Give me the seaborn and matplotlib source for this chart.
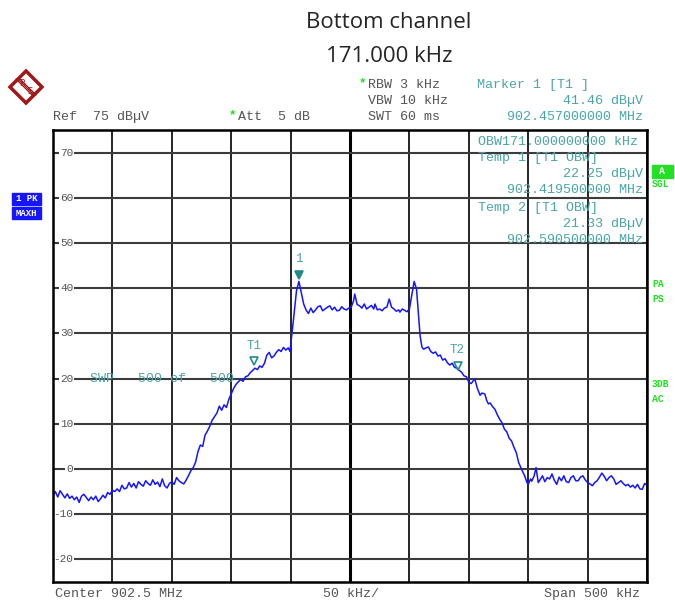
import matplotlib
matplotlib.use("Agg")
import matplotlib.pyplot as plt
import matplotlib.transforms as mtransforms
from matplotlib.patches import Rectangle, Polygon
import numpy as np
import pandas as pd
import seaborn as sns

# Analyzer settings
TITLE = "Bottom channel\n171.000 kHz"
START_MHZ = 902.25
SPAN_KHZ = 500
Y_MIN, Y_MAX = -25, 75

# Trace (offset from start frequency in kHz, level in dBuV)
freq_khz = [
    0, 2, 4, 6, 8, 10, 12, 14, 16, 18, 20, 22, 24, 26, 28, 30, 32, 34, 36, 38,
    40, 42, 44, 46, 48, 50, 52, 54, 56, 58, 60, 62, 64, 66, 68, 70, 72, 74, 76, 78,
    80, 82, 84, 86, 88, 90, 92, 94, 96, 98, 100, 102, 104, 106, 108, 110, 112, 114, 116, 118,
    120, 122, 124, 126, 128, 130, 132, 134, 136, 138, 140, 142, 144, 146, 148, 150, 152, 154, 156, 158,
    160, 162, 164, 166, 168, 170, 172, 174, 176, 178, 180, 182, 184, 186, 188, 190, 192, 194, 196, 198,
    199.5, 201, 203, 205, 207, 209, 211, 213, 215, 217, 219, 221, 223, 225, 227, 229, 231, 233, 235, 237,
    239, 241, 243, 245, 247, 249, 251, 253, 254, 256, 258, 260, 262, 264, 266, 268, 270, 271, 273, 275,
    277, 279, 281, 283, 285, 287, 289, 291, 292, 294, 296, 298, 300, 302, 304, 306, 308, 309, 310.5, 312,
    314, 316, 318, 320, 322, 324, 326, 328, 330, 332, 334, 336, 338, 340, 342, 344, 346, 348, 350, 352,
    354, 355, 357, 359.5, 361, 363.5, 365, 366.5, 368, 370, 372, 374, 376, 378, 380, 382, 384, 386, 388, 390,
    392, 393, 395, 397, 399, 400, 402, 403, 405, 406.6, 408.5, 410, 412, 414, 416, 418, 420, 422, 424, 426,
    428, 430, 432, 434, 436, 438, 440, 442, 444, 446, 448, 450, 452, 454, 456, 458, 460, 462, 464, 466,
    468, 470, 472, 474, 476, 478, 480, 482, 484, 486, 488, 490, 492, 494, 496, 498, 500,
]
level_dbuv = [
    -6.0, -5.0, -6.2, -4.8, -5.6, -6.4, -5.5, -6.5, -6.0, -6.8, -6.2, -7.4, -6.0, -5.6, -6.3, -7.0, -6.2, -6.8, -6.0, -7.2,
    -6.6, -5.8, -6.4, -5.2, -5.6, -4.7, -5.0, -4.4, -5.0, -3.6, -4.4, -4.2, -3.0, -4.0, -3.2, -4.2, -2.8, -3.4, -3.8, -2.6,
    -3.2, -3.6, -2.4, -3.4, -2.9, -3.9, -2.2, -3.7, -4.2, -3.2, -2.8, -3.4, -1.9, -2.6, -3.0, -3.3, -2.5, -1.5, -0.4, 0.3,
    1.5, 3.8, 5.3, 5.0, 7.5, 8.4, 9.5, 10.8, 11.6, 12.4, 13.9, 13.0, 14.2, 13.6, 15.4, 16.6, 17.8, 18.7, 19.3, 19.8,
    19.4, 20.4, 20.6, 21.3, 21.8, 22.3, 22.0, 22.8, 22.5, 23.4, 25.2, 25.8, 24.6, 25.0, 25.8, 26.4, 26.0, 26.9, 26.3, 26.8,
    26.0, 29.6, 34.5, 39.5, 41.5, 39.0, 36.5, 35.2, 34.4, 35.6, 34.6, 35.2, 35.9, 36.1, 35.0, 35.4, 35.8, 36.1, 35.2, 35.8,
    35.0, 35.1, 35.9, 35.4, 35.2, 35.6, 35.8, 37.2, 38.7, 36.4, 36.1, 35.6, 36.5, 35.4, 35.8, 36.2, 35.4, 36.5, 35.2, 35.4,
    35.0, 35.6, 35.8, 37.6, 35.8, 35.4, 34.9, 35.2, 34.7, 35.4, 35.1, 34.8, 35.4, 38.5, 41.5, 39.8, 33.0, 29.5, 27.0, 26.5,
    26.8, 27.0, 26.0, 25.6, 25.9, 25.0, 25.2, 24.1, 24.4, 23.5, 23.0, 23.4, 22.5, 22.3, 21.8, 21.4, 20.6, 20.4, 19.2, 18.9,
    19.6, 20.0, 18.0, 16.3, 16.8, 16.6, 15.2, 14.4, 14.6, 13.8, 13.2, 12.0, 11.0, 10.2, 8.8, 8.2, 6.8, 6.2, 4.8, 3.6,
    1.4, 0.8, -0.4, -1.5, -3.0, -3.4, -2.2, -2.7, -1.5, 0.3, -3.0, -2.4, -1.5, -2.8, -1.9, -2.2, -1.1, -2.5, -3.4, -1.8,
    -2.6, -1.5, -2.8, -3.0, -1.9, -1.5, -2.6, -2.6, -1.8, -1.5, -2.4, -3.0, -3.3, -3.7, -3.0, -2.6, -1.8, -0.9, -1.6, -2.6,
    -1.9, -1.5, -2.2, -3.4, -3.0, -2.6, -3.2, -3.7, -3.4, -4.0, -3.6, -4.2, -3.4, -4.4, -4.5, -3.2, -3.6,
]

# Markers
marker_names = ["1", "T1", "T2"]
marker_khz = [207.0, 169.5, 340.5]
marker_dbuv = [41.46, 22.25, 21.33]

y_ticks = [70, 60, 50, 40, 30, 20, 10, 0, -10, -20]

TEAL = "#4aa6a6"
TEAL_DARK = "#1f8c8c"
GREY = "#555555"
GREEN = "#22e022"
BLUE = "#1515ff"
MONO = ["Liberation Mono", "DejaVu Sans Mono"]

sns.set_style("white")
plt.rcParams["font.family"] = ["DejaVu Sans"]

trace = pd.DataFrame({"freq": freq_khz, "level": level_dbuv})

fig = plt.figure(figsize=(6.75, 6.01), dpi=100)
ax = fig.add_axes([53 / 675, 1 - 582 / 601, 594 / 675, 452 / 601])

# grid
for k in range(0, SPAN_KHZ + 1, 50):
    ax.axvline(k, color="black", lw=2.2 if k == 250 else 1.2, zorder=1)
for v in y_ticks:
    ax.axhline(v, color="#3c3c3c", lw=1.5, zorder=1)

sns.lineplot(data=trace, x="freq", y="level", ax=ax, color=BLUE, lw=1.1,
             zorder=3, legend=False)

ax.set_xlim(0, SPAN_KHZ)
ax.set_ylim(Y_MIN, Y_MAX)
ax.set_xticks([])
ax.set_yticks([])
ax.set_xlabel("")
ax.set_ylabel("")
for s in ax.spines.values():
    s.set_color("black")
    s.set_linewidth(1.8)
    s.set_zorder(6)

# y labels sit inside the frame and cut the grid line
blend = mtransforms.blended_transform_factory(ax.transAxes, ax.transData)
for v in y_ticks:
    ax.text(0.034, v, str(v), transform=blend, ha="right", va="center",
            fontsize=8, color=GREY, family=MONO, zorder=2,
            bbox=dict(facecolor="white", edgecolor="none", pad=0.8))

# markers
for name, f, lv in zip(marker_names, marker_khz, marker_dbuv):
    filled = name == "1"
    ax.plot([f], [lv], marker="v", ms=6 if filled else 5.5,
            mfc=TEAL_DARK if filled else "none", mec=TEAL_DARK, mew=1.2,
            ls="none", zorder=5, transform=ax.transData +
            mtransforms.ScaledTranslation(0, 5 / 72, fig.dpi_scale_trans))
    ax.annotate(name, xy=(f, lv), xytext=(0, 12), textcoords="offset points",
                ha="center", va="bottom", fontsize=9, color=TEAL, family=MONO,
                zorder=5)

# sweep counter
ax.text(0.062, 20, "SWP   500 of   500", transform=blend, ha="left",
        va="center", fontsize=9.6, color=TEAL, family=MONO, zorder=4)

right_x = 0.9935
info = [
    (0.7155, 142, "OBW171.000000000 kHz", "left"),
    (0.7155, 158, "Temp 1 [T1 OBW]", "left"),
    (right_x, 174, "22.25 dBµV", "right"),
    (right_x, 190, "902.419500000 MHz", "right"),
    (0.7155, 208, "Temp 2 [T1 OBW]", "left"),
    (right_x, 224, "21.33 dBµV", "right"),
    (right_x, 240, "902.590500000 MHz", "right"),
]
for xa, ypx, txt, ha in info:
    fig.text(53 / 675 + xa * 594 / 675, 1 - ypx / 601, txt, ha=ha, va="center",
             fontsize=9.6, color=TEAL, family=MONO)

# header
title_lines = TITLE.split("\n")
for yp, line in zip([23, 56], title_lines):
    fig.text(389 / 675, 1 - yp / 601, line, ha="center", va="center",
             fontsize=16, family=["Open Sans", "DejaVu Sans"])

hdr = [
    (368, 85, "RBW 3 kHz", GREY, "left"),
    (368, 101, "VBW 10 kHz", GREY, "left"),
    (368, 117, "SWT 60 ms", GREY, "left"),
    (53, 117, "Ref  75 dBµV", GREY, "left"),
    (238, 117, "Att  5 dB", GREY, "left"),
    (477, 85, "Marker 1 [T1 ]", TEAL, "left"),
    (643, 101, "41.46 dBµV", TEAL, "right"),
    (643, 117, "902.457000000 MHz", TEAL, "right"),
    (55, 594, "Center 902.5 MHz", GREY, "left"),
    (323, 594, "50 kHz/", GREY, "left"),
    (640, 594, "Span 500 kHz", GREY, "right"),
]
for xp, yp, txt, col, ha in hdr:
    fig.text(xp / 675, 1 - yp / 601, txt, ha=ha, va="center", fontsize=9.6,
             color=col, family=MONO)
for xp, yp in [(362, 83), (232, 115)]:
    fig.text(xp / 675, 1 - yp / 601, "*", ha="center", va="center",
             fontsize=9, color=GREEN, family=MONO, fontweight="bold")

# left status boxes
for yp, txt in [(199, "1 PK"), (213, "MAXH")]:
    fig.patches.append(Rectangle((12 / 675, 1 - (yp + 6) / 601), 29 / 675, 12 / 601,
                                 transform=fig.transFigure, color=BLUE))
    fig.text(26.5 / 675, 1 - yp / 601, txt, ha="center", va="center",
             fontsize=6.5, color="white", family=MONO, fontweight="bold")

# right status flags
fig.patches.append(Rectangle((652 / 675, 1 - 178 / 601), 21 / 675, 13 / 601,
                             transform=fig.transFigure, color=GREEN))
fig.text(662 / 675, 1 - 171 / 601, "A", ha="center", va="center", fontsize=7,
         color="white", family=MONO, fontweight="bold")
for yp, txt in [(184, "SGL"), (284, "PA"), (299, "PS"), (384, "3DB"), (399, "AC")]:
    fig.text(652 / 675, 1 - yp / 601, txt, ha="left", va="center", fontsize=7,
             color=GREEN, family=MONO, fontweight="bold")

# R&S logo
cx, cy, r = 26 / 675, 1 - 87 / 601, 16
pts = [(cx, cy + r / 601), (cx + r / 675, cy), (cx, cy - r / 601), (cx - r / 675, cy)]
fig.patches.append(Polygon(pts, closed=True, transform=fig.transFigure,
                           facecolor="white", edgecolor="#a01818", lw=2.5))
for d in (-2, 0, 2):
    fig.lines.append(plt.Line2D([(cx * 675 - 8 + d) / 675, (cx * 675 + 8 + d) / 675],
                                [cy + 8 / 601, cy - 8 / 601],
                                transform=fig.transFigure, color="#a01818", lw=0.9))
fig.text(cx - 4 / 675, cy + 4 / 601, "R", ha="center", va="center", fontsize=6,
         color="#a01818")
fig.text(cx + 4 / 675, cy - 5 / 601, "S", ha="center", va="center", fontsize=6,
         color="#a01818")

fig.savefig("out.png", dpi=100, facecolor="white")
